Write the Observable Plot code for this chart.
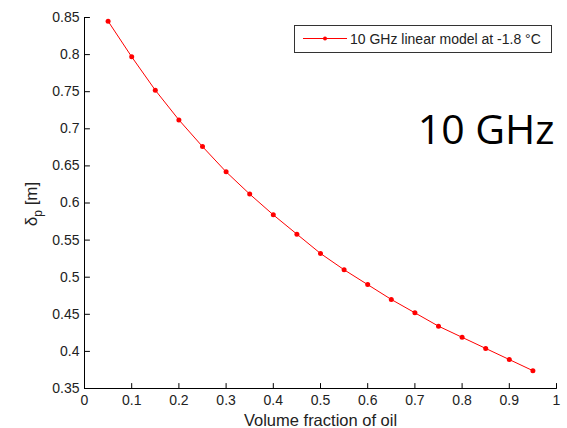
<!DOCTYPE html>
<html><head><meta charset="utf-8">
<script src="https://cdn.jsdelivr.net/npm/d3@7"></script>
<script src="https://cdn.jsdelivr.net/npm/@observablehq/plot@0.6"></script>
<style>body{margin:0;background:#fff}#chart{width:567px;height:428px;position:relative}</style>
</head><body><div id="chart"></div>
<script>
const fractions = [0.05,0.10,0.15,0.20,0.25,0.30,0.35,0.40,0.45,0.50,0.55,0.60,0.65,0.70,0.75,0.80,0.85,0.90,0.95];
const depths = [0.845,0.797,0.752,0.712,0.676,0.642,0.612,0.584,0.558,0.532,0.510,0.490,0.470,0.452,0.434,0.419,0.404,0.389,0.374];
const xTicks = [0,0.1,0.2,0.3,0.4,0.5,0.6,0.7,0.8,0.9,1];
const yTicks = [0.35,0.4,0.45,0.5,0.55,0.6,0.65,0.7,0.75,0.8,0.85];
const seriesName = "10 GHz linear model at -1.8 °C";
const bandLabel = "10 GHz";
const xLabel = "Volume fraction of oil";
const yLabelMain = "δ", yLabelSub = "p", yLabelUnit = " [m]";

const data = fractions.map((f, i) => ({f, d: depths[i]}));
const fmt = d => String(+d.toFixed(2));
const tickShape = {draw(context, l) { context.moveTo(0, 0); context.lineTo(0, -l); }};

const plot = Plot.plot({
  width: 567, height: 428,
  marginLeft: 84, marginRight: 11, marginTop: 17, marginBottom: 40,
  style: {fontFamily: "'Liberation Sans', Arial, sans-serif", fontSize: "14px", color: "#222", background: "#fff", overflow: "visible"},
  x: {domain: [0, 1]},
  y: {domain: [0.35, 0.85]},
  marks: [
    Plot.axisX({ticks: xTicks, tickSize: 0, tickPadding: 7, tickFormat: fmt, label: null}),
    Plot.axisY({ticks: yTicks, tickSize: 0, tickPadding: 5, tickFormat: fmt, label: null}),
    Plot.vector(xTicks, {x: d => d, y: 0.35, length: 5, rotate: 0, anchor: "start", shape: tickShape, stroke: "#000", strokeWidth: 1}),
    Plot.vector(yTicks, {x: 0, y: d => d, length: 5, rotate: 90, anchor: "start", shape: tickShape, stroke: "#000", strokeWidth: 1}),
    Plot.ruleX([0], {stroke: "#000"}),
    Plot.ruleY([0.35], {stroke: "#000"}),
    Plot.line(data, {x: "f", y: "d", stroke: "#ff0000", strokeWidth: 1}),
    Plot.dot(data, {x: "f", y: "d", r: 2.5, fill: "#ff0000", stroke: null}),
    Plot.text([xLabel], {frameAnchor: "bottom", lineAnchor: "bottom", dy: 37, fontSize: 16.5, fill: "#222"}),
    Plot.text([bandLabel], {frameAnchor: "top-right", textAnchor: "end", lineAnchor: "bottom", dx: -2, dy: 126, fontSize: 41, fontFamily: "'Open Sans', sans-serif", fill: "#000"})
  ]
});

const svg = d3.select(plot);
// y-axis label with subscript
const yl = svg.append("text")
  .attr("transform", "translate(37,204) rotate(-90)")
  .attr("text-anchor", "middle")
  .attr("font-size", 17)
  .attr("fill", "#222");
yl.append("tspan").text(yLabelMain);
yl.append("tspan").attr("font-size", 12).attr("dy", 5).text(yLabelSub);
yl.append("tspan").attr("dy", -5).text(yLabelUnit);

// legend
const lg = svg.append("g");
lg.append("rect").attr("x", 294.5).attr("y", 25.5).attr("width", 257).attr("height", 27)
  .attr("fill", "#fff").attr("stroke", "#333");
lg.append("line").attr("x1", 303).attr("x2", 347).attr("y1", 38.5).attr("y2", 38.5)
  .attr("stroke", "#ff0000").attr("stroke-width", 1);
lg.append("circle").attr("cx", 325).attr("cy", 38.5).attr("r", 2).attr("fill", "#ff0000");
lg.append("text").attr("x", 350).attr("y", 43.5).attr("text-anchor", "start")
  .attr("font-size", 14).attr("fill", "#222").text(seriesName);

document.getElementById("chart").append(plot);
</script>
</body></html>
